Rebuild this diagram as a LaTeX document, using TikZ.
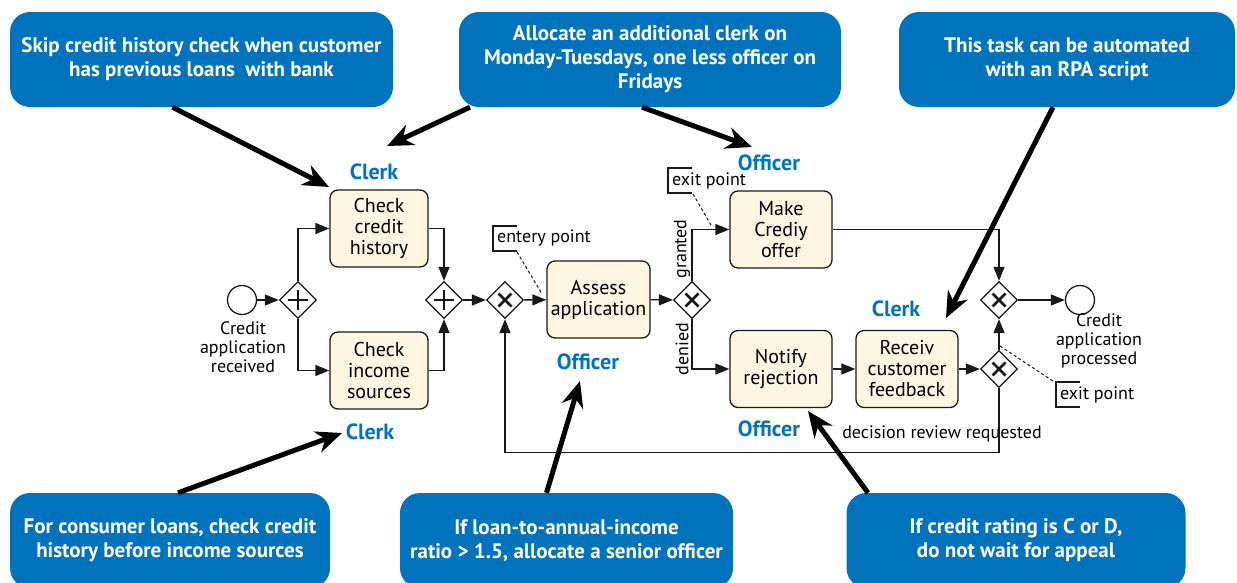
\documentclass[tikz,border=0pt]{standalone}
\usepackage{fontspec}
\setmainfont{PT Sans}
\usetikzlibrary{arrows.meta,shapes.geometric}
\definecolor{noteblue}{RGB}{0,115,188}
\definecolor{taskfill}{RGB}{253,247,225}
\definecolor{ink}{RGB}{25,25,25}

% gateway markers
\newcommand\gwplus[1]{%
  \draw[ink,line width=1.2pt] ([xshift=-10pt]#1.center) -- ([xshift=10pt]#1.center)
        ([yshift=-10pt]#1.center) -- ([yshift=10pt]#1.center);}
\newcommand\gwcross[1]{%
  \draw[ink,line width=2.8pt] ([shift={(-6.5pt,-6.5pt)}]#1.center) -- ([shift={(6.5pt,6.5pt)}]#1.center)
        ([shift={(-6.5pt,6.5pt)}]#1.center) -- ([shift={(6.5pt,-6.5pt)}]#1.center);}

\begin{document}
\begin{tikzpicture}[x=1pt,y=-1pt,
  task/.style={draw=ink,line width=1.3pt,fill=taskfill,rounded corners=8pt,
    minimum width=100pt,minimum height=77pt,align=center,inner sep=0pt,
    font=\fontsize{20}{21}\selectfont},
  gate/.style={diamond,draw=ink,line width=1.3pt,fill=white,
    minimum width=37pt,minimum height=37pt,inner sep=0pt},
  event/.style={circle,draw=ink,line width=1.3pt,fill=white,minimum size=29pt,inner sep=0pt},
  flow/.style={draw=ink,line width=1.3pt,-{Triangle[length=14pt,width=11pt]}},
  note/.style={fill=noteblue,rounded corners=20pt,text=white,align=center,
    minimum height=95pt,inner sep=0pt,font=\bfseries\fontsize{21}{24}\selectfont},
  pointer/.style={draw=black,line width=5pt,-{Stealth[length=26pt,width=22pt]}},
  role/.style={text=noteblue,font=\bfseries\fontsize{22}{22}\selectfont},
  small/.style={align=center,font=\fontsize{18}{19}\selectfont,inner sep=0pt},
  assoc/.style={draw=ink,line width=1pt,dashed,dash pattern=on 3pt off 2.5pt},
  bracket/.style={draw=ink,line width=1.2pt}
]
\useasboundingbox (0,0) rectangle (1237,582);

% ---------- callouts ----------
\node[note,minimum width=383pt] (n1) at (201.5,59.5)
  {Skip credit history check when customer\\has previous loans\ \ with bank};
\node[note,minimum width=382pt] (n2) at (650,59.5)
  {Allocate an additional clerk on\\Monday-Tuesdays, one less officer on\\Fridays};
\node[note,minimum width=336pt] (n3) at (1067,59.5)
  {This task can be automated\\with an RPA script};
\node[note,minimum width=320pt] (n4) at (170,540.5)
  {For consumer loans, check credit\\history before income sources};
\node[note,minimum width=333pt] (n5) at (566.5,540.5)
  {If loan-to-annual-income\\ratio > 1.5, allocate a senior officer};
\node[note,minimum width=339pt] (n6) at (1016,540.5)
  {If credit rating is C or D,\\do not wait for appeal};

% ---------- process elements ----------
\node[event] (start) at (242,300) {};
\node[small] (lstart) at (243,347) {Credit\\application\\received};

\node[gate] (g1) at (298,300) {};
\node[task,minimum width=98pt] (cch) at (379,228.5) {Check\\credit\\history};
\node[task,minimum width=98pt] (cis) at (379,370.5) {Check\\income\\sources};
\node[gate] (g2) at (444,300) {};
\node[gate] (g3) at (505,300) {};
\node[task,minimum width=103pt] (assess) at (598.5,299.5) {Assess\\application};
\node[gate] (g4) at (692,300) {};
\node[task,minimum width=102pt] (offer) at (781,229.5) {Make\\Crediy\\offer};
\node[task,minimum width=102pt] (notify) at (781,369) {Notify\\rejection};
\node[task,minimum width=102pt] (feedback) at (907,369) {Receiv\\customer\\feedback};
\node[gate] (g5) at (999,300) {};
\node[gate] (g6) at (999,369) {};
\node[event] (end) at (1080,300) {};
\node[small] (lend) at (1099,341) {Credit\\application\\processed};

\gwplus{g1}\gwplus{g2}
\gwcross{g3}\gwcross{g4}\gwcross{g5}\gwcross{g6}

% ---------- sequence flows ----------
\draw[flow] (start) -- (g1);
\draw[flow] (g1.north) |- (cch.west);
\draw[flow] (g1.south) |- (cis.west);
\draw[flow] (cch.east) -| (g2.north);
\draw[flow] (cis.east) -| (g2.south);
\draw[flow] (g2) -- (g3);
\draw[flow] (g3) -- (assess);
\draw[flow] (assess) -- (g4);
\draw[flow] (g4.north) |- (offer.west);
\draw[flow] (g4.south) |- (notify.west);
\draw[flow] (offer.east) -| (g5.north);
\draw[flow] (g5) -- (end);
\draw[flow] (notify) -- (feedback);
\draw[flow] (feedback) -- (g6);
\draw[flow] (g6) -- (g5);
\draw[flow] (g6.south) -- ++(0,64) -| (g3.south);

% flow labels
\node[small,rotate=90] (lgranted) at (682,249) {granted};
\node[small,rotate=90] (ldenied) at (682,349) {denied};
\node[small] (lreview) at (942,434) {decision review requested};

% ---------- text annotations ----------
\node[small,anchor=west] (aentry) at (497,238) {entery point};
\draw[bracket] (517,226) -- (493,226) -- (493,251) -- (517,251);
\coordinate (entryfoot) at (517,252);
\coordinate (entryflow) at (542,294);
\draw[assoc] (entryfoot) -- (entryflow);

\node[small,anchor=west] (aexit1) at (672,181) {exit point};
\draw[bracket] (692,168) -- (668,168) -- (668,193) -- (692,193);
\coordinate (exit1foot) at (693,194);
\coordinate (exit1flow) at (711,225);
\draw[assoc] (exit1foot) -- (exit1flow);

\node[small,anchor=west] (aexit2) at (1060,395) {exit point};
\draw[bracket] (1080,382) -- (1056,382) -- (1056,407) -- (1080,407);
\coordinate (exit2flow) at (1000,346);
\coordinate (exit2head) at (1056,383);
\draw[assoc] (exit2flow) -- (exit2head);

% ---------- roles ----------
\node[role] (r1) at (374,172) {Clerk};
\node[role] (r2) at (370,432) {Clerk};
\node[role] (r3) at (588,362) {Officer};
\node[role] (r4) at (769,163) {Officer};
\node[role] (r5) at (769,429) {Officer};
\node[role] (r6) at (896,309) {Clerk};

% ---------- pointers from callouts ----------
\coordinate (t1) at (329,187);
\coordinate (t2) at (387,146);
\coordinate (t3) at (752,147);
\coordinate (t4) at (946,318);
\coordinate (t5) at (342,433);
\coordinate (t6) at (580,381);
\coordinate (t7) at (808,411);
\draw[pointer] ([xshift=-29pt]n1.south) -- (t1);
\draw[pointer] ([xshift=-180pt]n2.south) -- (t2);
\draw[pointer] ([xshift=-8pt]n2.south) -- (t3);
\draw[pointer] ([xshift=-14pt]n3.south) -- (t4);
\draw[pointer] ([xshift=8pt]n4.north) -- (t5);
\draw[pointer] ([xshift=-20pt]n5.north) -- (t6);
\draw[pointer] ([xshift=-148pt]n6.north) -- (t7);
\end{tikzpicture}
\end{document}
